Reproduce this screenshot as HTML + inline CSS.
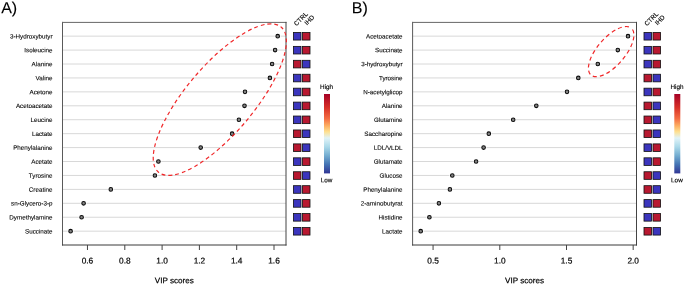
<!DOCTYPE html>
<html><head><meta charset="utf-8"><style>
html,body{margin:0;padding:0;background:#fff;}
svg{display:block;font-family:"Liberation Sans", sans-serif;will-change:transform;}
</style></head><body>
<svg width="685" height="285" viewBox="0 0 685 285">
<defs><linearGradient id="grad" x1="0" y1="0" x2="0" y2="1"><stop offset="0.000" stop-color="#A50026"/><stop offset="0.170" stop-color="#D73027"/><stop offset="0.310" stop-color="#F46D43"/><stop offset="0.400" stop-color="#FDAE61"/><stop offset="0.475" stop-color="#FEE090"/><stop offset="0.555" stop-color="#E0F3F8"/><stop offset="0.665" stop-color="#ABD9E9"/><stop offset="0.775" stop-color="#74ADD1"/><stop offset="0.885" stop-color="#4575B4"/><stop offset="1.000" stop-color="#313695"/></linearGradient></defs>
<rect width="685" height="285" fill="#fff"/>
<text transform="translate(1.20 13.30) rotate(0.05)" font-size="16" fill="#000" stroke="#000" stroke-width="0.1">A)</text>
<line x1="62.50" y1="36.15" x2="286.00" y2="36.15" stroke="#d8d8d8" stroke-width="1"/>
<line x1="62.50" y1="50.08" x2="286.00" y2="50.08" stroke="#d8d8d8" stroke-width="1"/>
<line x1="62.50" y1="64.01" x2="286.00" y2="64.01" stroke="#d8d8d8" stroke-width="1"/>
<line x1="62.50" y1="77.94" x2="286.00" y2="77.94" stroke="#d8d8d8" stroke-width="1"/>
<line x1="62.50" y1="91.87" x2="286.00" y2="91.87" stroke="#d8d8d8" stroke-width="1"/>
<line x1="62.50" y1="105.80" x2="286.00" y2="105.80" stroke="#d8d8d8" stroke-width="1"/>
<line x1="62.50" y1="119.73" x2="286.00" y2="119.73" stroke="#d8d8d8" stroke-width="1"/>
<line x1="62.50" y1="133.66" x2="286.00" y2="133.66" stroke="#d8d8d8" stroke-width="1"/>
<line x1="62.50" y1="147.59" x2="286.00" y2="147.59" stroke="#d8d8d8" stroke-width="1"/>
<line x1="62.50" y1="161.52" x2="286.00" y2="161.52" stroke="#d8d8d8" stroke-width="1"/>
<line x1="62.50" y1="175.45" x2="286.00" y2="175.45" stroke="#d8d8d8" stroke-width="1"/>
<line x1="62.50" y1="189.38" x2="286.00" y2="189.38" stroke="#d8d8d8" stroke-width="1"/>
<line x1="62.50" y1="203.31" x2="286.00" y2="203.31" stroke="#d8d8d8" stroke-width="1"/>
<line x1="62.50" y1="217.24" x2="286.00" y2="217.24" stroke="#d8d8d8" stroke-width="1"/>
<line x1="62.50" y1="231.17" x2="286.00" y2="231.17" stroke="#d8d8d8" stroke-width="1"/>
<line x1="62.50" y1="21.90" x2="62.50" y2="245.50" stroke="#5a5a5a" stroke-width="1"/>
<line x1="62.00" y1="22.40" x2="286.50" y2="22.40" stroke="#666" stroke-width="1"/>
<line x1="286.00" y1="21.90" x2="286.00" y2="245.50" stroke="#444" stroke-width="1"/>
<line x1="62.00" y1="245.00" x2="286.50" y2="245.00" stroke="#3a3a3a" stroke-width="1"/>
<text transform="translate(52.50 38.45) rotate(0.05)" font-size="6.27" text-anchor="end" fill="#000" stroke="#000" stroke-width="0.1">3-Hydroxybutyr</text>
<text transform="translate(52.50 52.38) rotate(0.05)" font-size="6.27" text-anchor="end" fill="#000" stroke="#000" stroke-width="0.1">Isoleucine</text>
<text transform="translate(52.50 66.31) rotate(0.05)" font-size="6.27" text-anchor="end" fill="#000" stroke="#000" stroke-width="0.1">Alanine</text>
<text transform="translate(52.50 80.24) rotate(0.05)" font-size="6.27" text-anchor="end" fill="#000" stroke="#000" stroke-width="0.1">Valine</text>
<text transform="translate(52.50 94.17) rotate(0.05)" font-size="6.27" text-anchor="end" fill="#000" stroke="#000" stroke-width="0.1">Acetone</text>
<text transform="translate(52.50 108.10) rotate(0.05)" font-size="6.27" text-anchor="end" fill="#000" stroke="#000" stroke-width="0.1">Acetoacetate</text>
<text transform="translate(52.50 122.03) rotate(0.05)" font-size="6.27" text-anchor="end" fill="#000" stroke="#000" stroke-width="0.1">Leucine</text>
<text transform="translate(52.50 135.96) rotate(0.05)" font-size="6.27" text-anchor="end" fill="#000" stroke="#000" stroke-width="0.1">Lactate</text>
<text transform="translate(52.50 149.89) rotate(0.05)" font-size="6.27" text-anchor="end" fill="#000" stroke="#000" stroke-width="0.1">Phenylalanine</text>
<text transform="translate(52.50 163.82) rotate(0.05)" font-size="6.27" text-anchor="end" fill="#000" stroke="#000" stroke-width="0.1">Acetate</text>
<text transform="translate(52.50 177.75) rotate(0.05)" font-size="6.27" text-anchor="end" fill="#000" stroke="#000" stroke-width="0.1">Tyrosine</text>
<text transform="translate(52.50 191.68) rotate(0.05)" font-size="6.27" text-anchor="end" fill="#000" stroke="#000" stroke-width="0.1">Creatine</text>
<text transform="translate(52.50 205.61) rotate(0.05)" font-size="6.27" text-anchor="end" fill="#000" stroke="#000" stroke-width="0.1">sn-Glycero-3-p</text>
<text transform="translate(52.50 219.54) rotate(0.05)" font-size="6.27" text-anchor="end" fill="#000" stroke="#000" stroke-width="0.1">Dymethylamine</text>
<text transform="translate(52.50 233.47) rotate(0.05)" font-size="6.27" text-anchor="end" fill="#000" stroke="#000" stroke-width="0.1">Succinate</text>
<line x1="87.46" y1="245.00" x2="87.46" y2="250.00" stroke="#444" stroke-width="1"/>
<text transform="translate(87.46 263.60) rotate(0.05)" font-size="8.3" text-anchor="middle" fill="#000" stroke="#000" stroke-width="0.2">0.6</text>
<line x1="124.80" y1="245.00" x2="124.80" y2="250.00" stroke="#444" stroke-width="1"/>
<text transform="translate(124.80 263.60) rotate(0.05)" font-size="8.3" text-anchor="middle" fill="#000" stroke="#000" stroke-width="0.2">0.8</text>
<line x1="162.10" y1="245.00" x2="162.10" y2="250.00" stroke="#444" stroke-width="1"/>
<text transform="translate(162.10 263.60) rotate(0.05)" font-size="8.3" text-anchor="middle" fill="#000" stroke="#000" stroke-width="0.2">1.0</text>
<line x1="199.40" y1="245.00" x2="199.40" y2="250.00" stroke="#444" stroke-width="1"/>
<text transform="translate(199.40 263.60) rotate(0.05)" font-size="8.3" text-anchor="middle" fill="#000" stroke="#000" stroke-width="0.2">1.2</text>
<line x1="236.70" y1="245.00" x2="236.70" y2="250.00" stroke="#444" stroke-width="1"/>
<text transform="translate(236.70 263.60) rotate(0.05)" font-size="8.3" text-anchor="middle" fill="#000" stroke="#000" stroke-width="0.2">1.4</text>
<line x1="274.00" y1="245.00" x2="274.00" y2="250.00" stroke="#444" stroke-width="1"/>
<text transform="translate(274.00 263.60) rotate(0.05)" font-size="8.3" text-anchor="middle" fill="#000" stroke="#000" stroke-width="0.2">1.6</text>
<text transform="translate(174.25 283.30) rotate(0.05)" font-size="8.1" text-anchor="middle" fill="#000" stroke="#000" stroke-width="0.2">VIP scores</text>
<circle cx="277.70" cy="36.15" r="2.9" fill="#fff"/>
<circle cx="277.70" cy="36.15" r="1.8" fill="#858585" stroke="#0a0a0a" stroke-width="1.05"/>
<circle cx="275.10" cy="50.08" r="2.9" fill="#fff"/>
<circle cx="275.10" cy="50.08" r="1.8" fill="#858585" stroke="#0a0a0a" stroke-width="1.05"/>
<circle cx="272.10" cy="64.01" r="2.9" fill="#fff"/>
<circle cx="272.10" cy="64.01" r="1.8" fill="#858585" stroke="#0a0a0a" stroke-width="1.05"/>
<circle cx="269.90" cy="77.94" r="2.9" fill="#fff"/>
<circle cx="269.90" cy="77.94" r="1.8" fill="#858585" stroke="#0a0a0a" stroke-width="1.05"/>
<circle cx="245.00" cy="91.87" r="2.9" fill="#fff"/>
<circle cx="245.00" cy="91.87" r="1.8" fill="#858585" stroke="#0a0a0a" stroke-width="1.05"/>
<circle cx="244.50" cy="105.80" r="2.9" fill="#fff"/>
<circle cx="244.50" cy="105.80" r="1.8" fill="#858585" stroke="#0a0a0a" stroke-width="1.05"/>
<circle cx="238.90" cy="119.73" r="2.9" fill="#fff"/>
<circle cx="238.90" cy="119.73" r="1.8" fill="#858585" stroke="#0a0a0a" stroke-width="1.05"/>
<circle cx="232.10" cy="133.66" r="2.9" fill="#fff"/>
<circle cx="232.10" cy="133.66" r="1.8" fill="#858585" stroke="#0a0a0a" stroke-width="1.05"/>
<circle cx="200.70" cy="147.59" r="2.9" fill="#fff"/>
<circle cx="200.70" cy="147.59" r="1.8" fill="#858585" stroke="#0a0a0a" stroke-width="1.05"/>
<circle cx="158.40" cy="161.52" r="2.9" fill="#fff"/>
<circle cx="158.40" cy="161.52" r="1.8" fill="#858585" stroke="#0a0a0a" stroke-width="1.05"/>
<circle cx="154.90" cy="175.45" r="2.9" fill="#fff"/>
<circle cx="154.90" cy="175.45" r="1.8" fill="#858585" stroke="#0a0a0a" stroke-width="1.05"/>
<circle cx="110.80" cy="189.38" r="2.9" fill="#fff"/>
<circle cx="110.80" cy="189.38" r="1.8" fill="#858585" stroke="#0a0a0a" stroke-width="1.05"/>
<circle cx="83.60" cy="203.31" r="2.9" fill="#fff"/>
<circle cx="83.60" cy="203.31" r="1.8" fill="#858585" stroke="#0a0a0a" stroke-width="1.05"/>
<circle cx="81.60" cy="217.24" r="2.9" fill="#fff"/>
<circle cx="81.60" cy="217.24" r="1.8" fill="#858585" stroke="#0a0a0a" stroke-width="1.05"/>
<circle cx="70.60" cy="231.17" r="2.9" fill="#fff"/>
<circle cx="70.60" cy="231.17" r="1.8" fill="#858585" stroke="#0a0a0a" stroke-width="1.05"/>
<ellipse cx="0" cy="0" rx="95.00" ry="34.00" transform="translate(219.80 99.60) rotate(-49.82)" fill="none" stroke="#f0282a" stroke-width="1.2" stroke-dasharray="3.85 3.05" stroke-dashoffset="0.85"/>
<rect x="293.40" y="32.45" width="7.6" height="7.6" fill="#3b35bd" stroke="#111" stroke-width="0.8"/>
<rect x="302.40" y="32.45" width="7.6" height="7.6" fill="#b81830" stroke="#111" stroke-width="0.8"/>
<rect x="293.40" y="46.38" width="7.6" height="7.6" fill="#3b35bd" stroke="#111" stroke-width="0.8"/>
<rect x="302.40" y="46.38" width="7.6" height="7.6" fill="#b81830" stroke="#111" stroke-width="0.8"/>
<rect x="293.40" y="60.31" width="7.6" height="7.6" fill="#b81830" stroke="#111" stroke-width="0.8"/>
<rect x="302.40" y="60.31" width="7.6" height="7.6" fill="#3b35bd" stroke="#111" stroke-width="0.8"/>
<rect x="293.40" y="74.24" width="7.6" height="7.6" fill="#3b35bd" stroke="#111" stroke-width="0.8"/>
<rect x="302.40" y="74.24" width="7.6" height="7.6" fill="#b81830" stroke="#111" stroke-width="0.8"/>
<rect x="293.40" y="88.17" width="7.6" height="7.6" fill="#3b35bd" stroke="#111" stroke-width="0.8"/>
<rect x="302.40" y="88.17" width="7.6" height="7.6" fill="#b81830" stroke="#111" stroke-width="0.8"/>
<rect x="293.40" y="102.10" width="7.6" height="7.6" fill="#3b35bd" stroke="#111" stroke-width="0.8"/>
<rect x="302.40" y="102.10" width="7.6" height="7.6" fill="#b81830" stroke="#111" stroke-width="0.8"/>
<rect x="293.40" y="116.03" width="7.6" height="7.6" fill="#3b35bd" stroke="#111" stroke-width="0.8"/>
<rect x="302.40" y="116.03" width="7.6" height="7.6" fill="#b81830" stroke="#111" stroke-width="0.8"/>
<rect x="293.40" y="129.96" width="7.6" height="7.6" fill="#b81830" stroke="#111" stroke-width="0.8"/>
<rect x="302.40" y="129.96" width="7.6" height="7.6" fill="#3b35bd" stroke="#111" stroke-width="0.8"/>
<rect x="293.40" y="143.89" width="7.6" height="7.6" fill="#b81830" stroke="#111" stroke-width="0.8"/>
<rect x="302.40" y="143.89" width="7.6" height="7.6" fill="#3b35bd" stroke="#111" stroke-width="0.8"/>
<rect x="293.40" y="157.82" width="7.6" height="7.6" fill="#3b35bd" stroke="#111" stroke-width="0.8"/>
<rect x="302.40" y="157.82" width="7.6" height="7.6" fill="#b81830" stroke="#111" stroke-width="0.8"/>
<rect x="293.40" y="171.75" width="7.6" height="7.6" fill="#b81830" stroke="#111" stroke-width="0.8"/>
<rect x="302.40" y="171.75" width="7.6" height="7.6" fill="#3b35bd" stroke="#111" stroke-width="0.8"/>
<rect x="293.40" y="185.68" width="7.6" height="7.6" fill="#3b35bd" stroke="#111" stroke-width="0.8"/>
<rect x="302.40" y="185.68" width="7.6" height="7.6" fill="#b81830" stroke="#111" stroke-width="0.8"/>
<rect x="293.40" y="199.61" width="7.6" height="7.6" fill="#3b35bd" stroke="#111" stroke-width="0.8"/>
<rect x="302.40" y="199.61" width="7.6" height="7.6" fill="#b81830" stroke="#111" stroke-width="0.8"/>
<rect x="293.40" y="213.54" width="7.6" height="7.6" fill="#3b35bd" stroke="#111" stroke-width="0.8"/>
<rect x="302.40" y="213.54" width="7.6" height="7.6" fill="#b81830" stroke="#111" stroke-width="0.8"/>
<rect x="293.40" y="227.47" width="7.6" height="7.6" fill="#3b35bd" stroke="#111" stroke-width="0.8"/>
<rect x="302.40" y="227.47" width="7.6" height="7.6" fill="#b81830" stroke="#111" stroke-width="0.8"/>
<text transform="translate(296.40 26.3) rotate(-45)" font-size="6.4" fill="#000" stroke="#000" stroke-width="0.15">CTRL</text>
<text transform="translate(306.90 25.6) rotate(-45)" font-size="6.4" fill="#000" stroke="#000" stroke-width="0.15">IHD</text>
<rect x="324.00" y="94" width="6" height="79.4" fill="url(#grad)"/>
<text transform="translate(326.60 89.00) rotate(0.05)" font-size="6.35" text-anchor="middle" fill="#000" stroke="#000" stroke-width="0.14">High</text>
<text transform="translate(326.60 182.30) rotate(0.05)" font-size="6.35" text-anchor="middle" fill="#000" stroke="#000" stroke-width="0.14">Low</text>
<text transform="translate(351.80 13.30) rotate(0.05)" font-size="16" fill="#000" stroke="#000" stroke-width="0.1">B)</text>
<line x1="412.60" y1="36.15" x2="636.50" y2="36.15" stroke="#d8d8d8" stroke-width="1"/>
<line x1="412.60" y1="50.08" x2="636.50" y2="50.08" stroke="#d8d8d8" stroke-width="1"/>
<line x1="412.60" y1="64.01" x2="636.50" y2="64.01" stroke="#d8d8d8" stroke-width="1"/>
<line x1="412.60" y1="77.94" x2="636.50" y2="77.94" stroke="#d8d8d8" stroke-width="1"/>
<line x1="412.60" y1="91.87" x2="636.50" y2="91.87" stroke="#d8d8d8" stroke-width="1"/>
<line x1="412.60" y1="105.80" x2="636.50" y2="105.80" stroke="#d8d8d8" stroke-width="1"/>
<line x1="412.60" y1="119.73" x2="636.50" y2="119.73" stroke="#d8d8d8" stroke-width="1"/>
<line x1="412.60" y1="133.66" x2="636.50" y2="133.66" stroke="#d8d8d8" stroke-width="1"/>
<line x1="412.60" y1="147.59" x2="636.50" y2="147.59" stroke="#d8d8d8" stroke-width="1"/>
<line x1="412.60" y1="161.52" x2="636.50" y2="161.52" stroke="#d8d8d8" stroke-width="1"/>
<line x1="412.60" y1="175.45" x2="636.50" y2="175.45" stroke="#d8d8d8" stroke-width="1"/>
<line x1="412.60" y1="189.38" x2="636.50" y2="189.38" stroke="#d8d8d8" stroke-width="1"/>
<line x1="412.60" y1="203.31" x2="636.50" y2="203.31" stroke="#d8d8d8" stroke-width="1"/>
<line x1="412.60" y1="217.24" x2="636.50" y2="217.24" stroke="#d8d8d8" stroke-width="1"/>
<line x1="412.60" y1="231.17" x2="636.50" y2="231.17" stroke="#d8d8d8" stroke-width="1"/>
<line x1="412.60" y1="21.90" x2="412.60" y2="245.50" stroke="#5a5a5a" stroke-width="1"/>
<line x1="412.10" y1="22.40" x2="637.00" y2="22.40" stroke="#666" stroke-width="1"/>
<line x1="636.50" y1="21.90" x2="636.50" y2="245.50" stroke="#444" stroke-width="1"/>
<line x1="412.10" y1="245.00" x2="637.00" y2="245.00" stroke="#3a3a3a" stroke-width="1"/>
<text transform="translate(402.60 38.45) rotate(0.05)" font-size="6.27" text-anchor="end" fill="#000" stroke="#000" stroke-width="0.1">Acetoacetate</text>
<text transform="translate(402.60 52.38) rotate(0.05)" font-size="6.27" text-anchor="end" fill="#000" stroke="#000" stroke-width="0.1">Succinate</text>
<text transform="translate(402.60 66.31) rotate(0.05)" font-size="6.27" text-anchor="end" fill="#000" stroke="#000" stroke-width="0.1">3-hydroxybutyr</text>
<text transform="translate(402.60 80.24) rotate(0.05)" font-size="6.27" text-anchor="end" fill="#000" stroke="#000" stroke-width="0.1">Tyrosine</text>
<text transform="translate(402.60 94.17) rotate(0.05)" font-size="6.27" text-anchor="end" fill="#000" stroke="#000" stroke-width="0.1">N-acetylglicop</text>
<text transform="translate(402.60 108.10) rotate(0.05)" font-size="6.27" text-anchor="end" fill="#000" stroke="#000" stroke-width="0.1">Alanine</text>
<text transform="translate(402.60 122.03) rotate(0.05)" font-size="6.27" text-anchor="end" fill="#000" stroke="#000" stroke-width="0.1">Glutamine</text>
<text transform="translate(402.60 135.96) rotate(0.05)" font-size="6.27" text-anchor="end" fill="#000" stroke="#000" stroke-width="0.1">Saccharopine</text>
<text transform="translate(402.60 149.89) rotate(0.05)" font-size="6.27" text-anchor="end" fill="#000" stroke="#000" stroke-width="0.1">LDL/VLDL</text>
<text transform="translate(402.60 163.82) rotate(0.05)" font-size="6.27" text-anchor="end" fill="#000" stroke="#000" stroke-width="0.1">Glutamate</text>
<text transform="translate(402.60 177.75) rotate(0.05)" font-size="6.27" text-anchor="end" fill="#000" stroke="#000" stroke-width="0.1">Glucose</text>
<text transform="translate(402.60 191.68) rotate(0.05)" font-size="6.27" text-anchor="end" fill="#000" stroke="#000" stroke-width="0.1">Phenylalanine</text>
<text transform="translate(402.60 205.61) rotate(0.05)" font-size="6.27" text-anchor="end" fill="#000" stroke="#000" stroke-width="0.1">2-aminobutyrat</text>
<text transform="translate(402.60 219.54) rotate(0.05)" font-size="6.27" text-anchor="end" fill="#000" stroke="#000" stroke-width="0.1">Histidine</text>
<text transform="translate(402.60 233.47) rotate(0.05)" font-size="6.27" text-anchor="end" fill="#000" stroke="#000" stroke-width="0.1">Lactate</text>
<line x1="433.07" y1="245.00" x2="433.07" y2="250.00" stroke="#444" stroke-width="1"/>
<text transform="translate(433.07 263.60) rotate(0.05)" font-size="8.3" text-anchor="middle" fill="#000" stroke="#000" stroke-width="0.2">0.5</text>
<line x1="499.80" y1="245.00" x2="499.80" y2="250.00" stroke="#444" stroke-width="1"/>
<text transform="translate(499.80 263.60) rotate(0.05)" font-size="8.3" text-anchor="middle" fill="#000" stroke="#000" stroke-width="0.2">1.0</text>
<line x1="566.50" y1="245.00" x2="566.50" y2="250.00" stroke="#444" stroke-width="1"/>
<text transform="translate(566.50 263.60) rotate(0.05)" font-size="8.3" text-anchor="middle" fill="#000" stroke="#000" stroke-width="0.2">1.5</text>
<line x1="633.16" y1="245.00" x2="633.16" y2="250.00" stroke="#444" stroke-width="1"/>
<text transform="translate(633.16 263.60) rotate(0.05)" font-size="8.3" text-anchor="middle" fill="#000" stroke="#000" stroke-width="0.2">2.0</text>
<text transform="translate(524.55 283.30) rotate(0.05)" font-size="8.1" text-anchor="middle" fill="#000" stroke="#000" stroke-width="0.2">VIP scores</text>
<circle cx="628.00" cy="36.15" r="2.9" fill="#fff"/>
<circle cx="628.00" cy="36.15" r="1.8" fill="#858585" stroke="#0a0a0a" stroke-width="1.05"/>
<circle cx="617.80" cy="50.08" r="2.9" fill="#fff"/>
<circle cx="617.80" cy="50.08" r="1.8" fill="#858585" stroke="#0a0a0a" stroke-width="1.05"/>
<circle cx="597.80" cy="64.01" r="2.9" fill="#fff"/>
<circle cx="597.80" cy="64.01" r="1.8" fill="#858585" stroke="#0a0a0a" stroke-width="1.05"/>
<circle cx="578.30" cy="77.94" r="2.9" fill="#fff"/>
<circle cx="578.30" cy="77.94" r="1.8" fill="#858585" stroke="#0a0a0a" stroke-width="1.05"/>
<circle cx="567.00" cy="91.87" r="2.9" fill="#fff"/>
<circle cx="567.00" cy="91.87" r="1.8" fill="#858585" stroke="#0a0a0a" stroke-width="1.05"/>
<circle cx="536.30" cy="105.80" r="2.9" fill="#fff"/>
<circle cx="536.30" cy="105.80" r="1.8" fill="#858585" stroke="#0a0a0a" stroke-width="1.05"/>
<circle cx="513.20" cy="119.73" r="2.9" fill="#fff"/>
<circle cx="513.20" cy="119.73" r="1.8" fill="#858585" stroke="#0a0a0a" stroke-width="1.05"/>
<circle cx="488.80" cy="133.66" r="2.9" fill="#fff"/>
<circle cx="488.80" cy="133.66" r="1.8" fill="#858585" stroke="#0a0a0a" stroke-width="1.05"/>
<circle cx="483.60" cy="147.59" r="2.9" fill="#fff"/>
<circle cx="483.60" cy="147.59" r="1.8" fill="#858585" stroke="#0a0a0a" stroke-width="1.05"/>
<circle cx="476.10" cy="161.52" r="2.9" fill="#fff"/>
<circle cx="476.10" cy="161.52" r="1.8" fill="#858585" stroke="#0a0a0a" stroke-width="1.05"/>
<circle cx="452.30" cy="175.45" r="2.9" fill="#fff"/>
<circle cx="452.30" cy="175.45" r="1.8" fill="#858585" stroke="#0a0a0a" stroke-width="1.05"/>
<circle cx="449.90" cy="189.38" r="2.9" fill="#fff"/>
<circle cx="449.90" cy="189.38" r="1.8" fill="#858585" stroke="#0a0a0a" stroke-width="1.05"/>
<circle cx="438.90" cy="203.31" r="2.9" fill="#fff"/>
<circle cx="438.90" cy="203.31" r="1.8" fill="#858585" stroke="#0a0a0a" stroke-width="1.05"/>
<circle cx="429.40" cy="217.24" r="2.9" fill="#fff"/>
<circle cx="429.40" cy="217.24" r="1.8" fill="#858585" stroke="#0a0a0a" stroke-width="1.05"/>
<circle cx="420.70" cy="231.17" r="2.9" fill="#fff"/>
<circle cx="420.70" cy="231.17" r="1.8" fill="#858585" stroke="#0a0a0a" stroke-width="1.05"/>
<ellipse cx="0" cy="0" rx="30.92" ry="13.84" transform="translate(611.17 51.62) rotate(-49.24)" fill="none" stroke="#f0282a" stroke-width="1.2" stroke-dasharray="4.05 3.15" stroke-dashoffset="5.45"/>
<rect x="644.00" y="32.45" width="7.6" height="7.6" fill="#3b35bd" stroke="#111" stroke-width="0.8"/>
<rect x="653.00" y="32.45" width="7.6" height="7.6" fill="#b81830" stroke="#111" stroke-width="0.8"/>
<rect x="644.00" y="46.38" width="7.6" height="7.6" fill="#3b35bd" stroke="#111" stroke-width="0.8"/>
<rect x="653.00" y="46.38" width="7.6" height="7.6" fill="#b81830" stroke="#111" stroke-width="0.8"/>
<rect x="644.00" y="60.31" width="7.6" height="7.6" fill="#3b35bd" stroke="#111" stroke-width="0.8"/>
<rect x="653.00" y="60.31" width="7.6" height="7.6" fill="#b81830" stroke="#111" stroke-width="0.8"/>
<rect x="644.00" y="74.24" width="7.6" height="7.6" fill="#b81830" stroke="#111" stroke-width="0.8"/>
<rect x="653.00" y="74.24" width="7.6" height="7.6" fill="#3b35bd" stroke="#111" stroke-width="0.8"/>
<rect x="644.00" y="88.17" width="7.6" height="7.6" fill="#3b35bd" stroke="#111" stroke-width="0.8"/>
<rect x="653.00" y="88.17" width="7.6" height="7.6" fill="#b81830" stroke="#111" stroke-width="0.8"/>
<rect x="644.00" y="102.10" width="7.6" height="7.6" fill="#b81830" stroke="#111" stroke-width="0.8"/>
<rect x="653.00" y="102.10" width="7.6" height="7.6" fill="#3b35bd" stroke="#111" stroke-width="0.8"/>
<rect x="644.00" y="116.03" width="7.6" height="7.6" fill="#b81830" stroke="#111" stroke-width="0.8"/>
<rect x="653.00" y="116.03" width="7.6" height="7.6" fill="#3b35bd" stroke="#111" stroke-width="0.8"/>
<rect x="644.00" y="129.96" width="7.6" height="7.6" fill="#b81830" stroke="#111" stroke-width="0.8"/>
<rect x="653.00" y="129.96" width="7.6" height="7.6" fill="#3b35bd" stroke="#111" stroke-width="0.8"/>
<rect x="644.00" y="143.89" width="7.6" height="7.6" fill="#3b35bd" stroke="#111" stroke-width="0.8"/>
<rect x="653.00" y="143.89" width="7.6" height="7.6" fill="#b81830" stroke="#111" stroke-width="0.8"/>
<rect x="644.00" y="157.82" width="7.6" height="7.6" fill="#3b35bd" stroke="#111" stroke-width="0.8"/>
<rect x="653.00" y="157.82" width="7.6" height="7.6" fill="#b81830" stroke="#111" stroke-width="0.8"/>
<rect x="644.00" y="171.75" width="7.6" height="7.6" fill="#b81830" stroke="#111" stroke-width="0.8"/>
<rect x="653.00" y="171.75" width="7.6" height="7.6" fill="#3b35bd" stroke="#111" stroke-width="0.8"/>
<rect x="644.00" y="185.68" width="7.6" height="7.6" fill="#b81830" stroke="#111" stroke-width="0.8"/>
<rect x="653.00" y="185.68" width="7.6" height="7.6" fill="#3b35bd" stroke="#111" stroke-width="0.8"/>
<rect x="644.00" y="199.61" width="7.6" height="7.6" fill="#3b35bd" stroke="#111" stroke-width="0.8"/>
<rect x="653.00" y="199.61" width="7.6" height="7.6" fill="#b81830" stroke="#111" stroke-width="0.8"/>
<rect x="644.00" y="213.54" width="7.6" height="7.6" fill="#3b35bd" stroke="#111" stroke-width="0.8"/>
<rect x="653.00" y="213.54" width="7.6" height="7.6" fill="#b81830" stroke="#111" stroke-width="0.8"/>
<rect x="644.00" y="227.47" width="7.6" height="7.6" fill="#b81830" stroke="#111" stroke-width="0.8"/>
<rect x="653.00" y="227.47" width="7.6" height="7.6" fill="#3b35bd" stroke="#111" stroke-width="0.8"/>
<text transform="translate(647.00 26.3) rotate(-45)" font-size="6.4" fill="#000" stroke="#000" stroke-width="0.15">CTRL</text>
<text transform="translate(657.50 25.6) rotate(-45)" font-size="6.4" fill="#000" stroke="#000" stroke-width="0.15">IHD</text>
<rect x="674.30" y="94" width="6" height="79.4" fill="url(#grad)"/>
<text transform="translate(676.90 89.00) rotate(0.05)" font-size="6.35" text-anchor="middle" fill="#000" stroke="#000" stroke-width="0.14">High</text>
<text transform="translate(676.90 182.30) rotate(0.05)" font-size="6.35" text-anchor="middle" fill="#000" stroke="#000" stroke-width="0.14">Low</text>
</svg>
</body></html>
